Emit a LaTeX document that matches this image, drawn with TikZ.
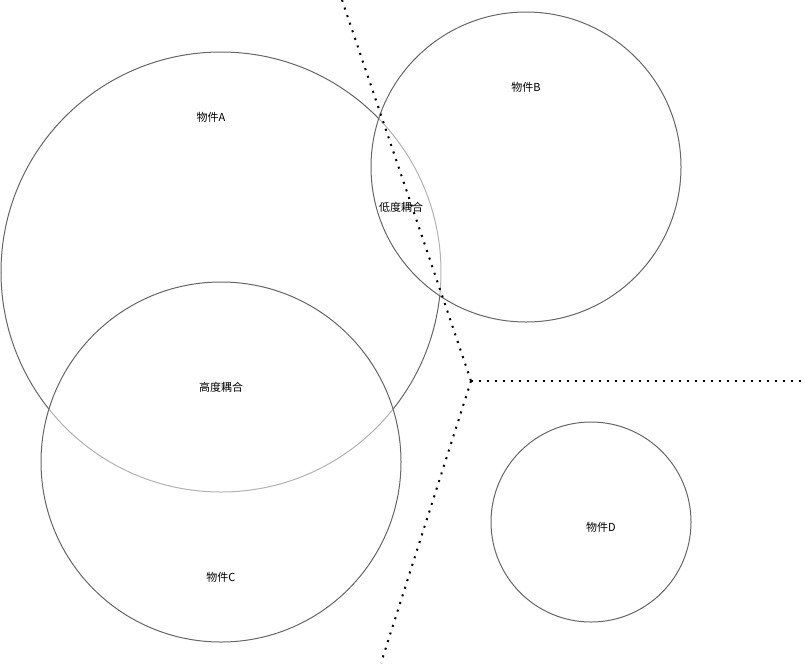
\documentclass[tikz,border=0pt]{standalone}
\usepackage{fontspec}
\setmainfont{Noto Sans CJK TC}
\begin{document}
\begin{tikzpicture}[x=0.75pt,y=-0.75pt,
  obj/.style={draw=black!60, line width=0.75pt, fill=white, fill opacity=0.5, text opacity=1},
  lbl/.style={font=\fontsize{8.25pt}{10pt}\selectfont, text=black, inner sep=0pt},
  sep/.style={line width=1.5pt, dash pattern=on 1.5pt off 4.5pt}]
\useasboundingbox (0,0) rectangle (805,665);
\node[obj, circle, minimum size=440*0.75pt, inner sep=0pt] (A) at (221,272) {};
\node[obj, circle, minimum size=310*0.75pt, inner sep=0pt] (B) at (526,167) {};
\node[obj, circle, minimum size=360*0.75pt, inner sep=0pt] (C) at (221,462) {};
\node[obj, circle, minimum size=200*0.75pt, inner sep=0pt] (D) at (591,522) {};
\node[lbl] (tA) at (211,117) {物件A};
\node[lbl] (tB) at (526,87) {物件B};
\node[lbl] (tC) at (221,577) {物件C};
\node[lbl] (tD) at (601,527) {物件D};
\node[lbl] (low) at (401,207) {低度耦合};
\node[lbl] (high) at (221,387) {高度耦合};
\coordinate (s1) at (342,0);
\coordinate (j) at (471,381);
\coordinate (s2) at (805,381);
\coordinate (s3) at (381,663);
\draw[sep] (s1) -- (j);
\draw[sep] (j) -- (s2);
\draw[sep] (j) -- (s3);
\end{tikzpicture}
\end{document}
